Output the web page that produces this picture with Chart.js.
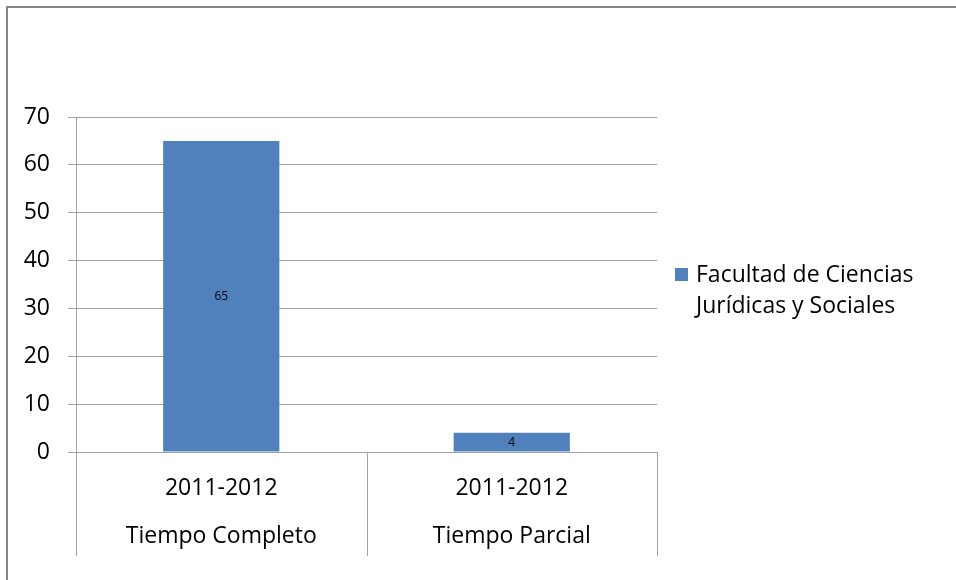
<!DOCTYPE html>
<html><head><meta charset="utf-8">
<script src="https://cdn.jsdelivr.net/npm/chart.js@4"></script>
<style>html,body{margin:0;padding:0;background:#fff}#wrap{width:956px;height:580px;position:relative}</style>
</head><body><div id="wrap"><canvas id="c" width="956" height="580"></canvas></div>
<script>
const periods = ['2011-2012', '2011-2012'];
const categories = ['Tiempo Completo', 'Tiempo Parcial'];
const values = [65, 4];
const seriesName = 'Facultad de Ciencias Jurídicas y Sociales';
const legendLines = ['Facultad de Ciencias', 'Jurídicas y Sociales'];
const yMin = 0, yMax = 70, yStep = 10;

const FONT = "'Open Sans', sans-serif";
const GRID = '#a3a3a3';
const BAR = '#4F81BD';

const frame = {
  id: 'frame',
  beforeDraw(chart) {
    const ctx = chart.ctx;
    ctx.save();
    ctx.fillStyle = '#fff';
    ctx.fillRect(0, 0, chart.width, chart.height);
    ctx.fillStyle = '#878787';
    ctx.fillRect(6, 6, chart.width - 6, 2);
    ctx.fillRect(6, 6, 2, chart.height - 6);
    ctx.restore();
  }
};

const separators = {
  id: 'separators',
  afterDraw(chart) {
    const xs = chart.scales.x, ca = chart.chartArea, ctx = chart.ctx;
    const xsPos = [xs.left];
    for (let i = 0; i < categories.length - 1; i++) {
      xsPos.push((xs.getPixelForValue(i) + xs.getPixelForValue(i + 1)) / 2);
    }
    xsPos.push(xs.right);
    ctx.save();
    ctx.strokeStyle = GRID;
    ctx.lineWidth = 1;
    xsPos.forEach(x => {
      const px = Math.round(x) + 0.5;
      ctx.beginPath();
      ctx.moveTo(px, ca.bottom);
      ctx.lineTo(px, ca.bottom + 104);
      ctx.stroke();
    });
    ctx.restore();
  }
};

const dataLabels = {
  id: 'dataLabels',
  afterDatasetsDraw(chart) {
    const ctx = chart.ctx;
    const meta = chart.getDatasetMeta(0);
    ctx.save();
    ctx.font = '12px ' + FONT;
    ctx.fillStyle = '#000';
    ctx.textAlign = 'center';
    ctx.textBaseline = 'middle';
    meta.data.forEach((bar, i) => {
      const p = bar.getProps(['x', 'y', 'base'], true);
      ctx.fillText(String(values[i]), p.x, (p.y + p.base) / 2);
    });
    ctx.restore();
  }
};

const sideLegend = {
  id: 'sideLegend',
  afterDraw(chart) {
    const ctx = chart.ctx;
    const ca = chart.chartArea;
    const x0 = ca.right + 18;
    const y0 = 275;
    ctx.save();
    ctx.fillStyle = BAR;
    ctx.fillRect(x0, y0 - 7, 13, 13);
    ctx.fillStyle = '#000';
    ctx.font = '23px ' + FONT;
    ctx.textAlign = 'left';
    ctx.textBaseline = 'middle';
    legendLines.forEach((t, i) => ctx.fillText(t, x0 + 21, y0 + i * 31));
    ctx.restore();
  }
};

new Chart(document.getElementById('c'), {
  type: 'bar',
  data: {
    labels: categories.map((c, i) => [periods[i], c]),
    datasets: [{
      label: seriesName,
      data: values,
      backgroundColor: BAR,
      borderWidth: 0,
      barPercentage: 0.4,
      categoryPercentage: 1.0
    }]
  },
  options: {
    responsive: false,
    animation: false,
    devicePixelRatio: 1,
    layout: { padding: { left: 0, top: 117, right: 299, bottom: 0 } },
    plugins: { legend: { display: false }, tooltip: { enabled: false } },
    scales: {
      y: {
        min: yMin, max: yMax,
        ticks: { stepSize: yStep, padding: 18, color: '#000', font: { family: FONT, size: 23 } },
        grid: { color: GRID, tickLength: 8, drawTicks: true },
        border: { display: true, color: GRID },
        afterFit: s => { s.width = 76; }
      },
      x: {
        ticks: { padding: 12, color: '#000', font: { family: FONT, size: 23, lineHeight: 48 / 23 }, maxRotation: 0, autoSkip: false },
        grid: { display: false, drawTicks: false },
        border: { display: true, color: GRID },
        afterFit: s => { s.height = 128; }
      }
    }
  },
  plugins: [frame, separators, dataLabels, sideLegend]
});
</script>
</body></html>
